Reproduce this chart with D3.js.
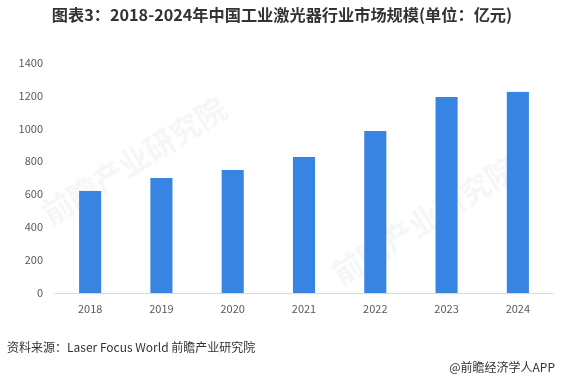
<!DOCTYPE html>
<html><head><meta charset="utf-8">
<script src="https://cdn.jsdelivr.net/npm/d3@7"></script>
<style>body{margin:0;background:#fff}svg{display:block;font-family:"Noto Sans CJK SC","Noto Sans",sans-serif}</style>
</head><body><svg id="c" width="562" height="381"></svg>
<script>
const categories = ["2018","2019","2020","2021","2022","2023","2024"];
const values = [621, 700, 749, 828, 986, 1193, 1224];
const yTicks = [0,200,400,600,800,1000,1200,1400];
const title = "图表3：2018-2024年中国工业激光器行业市场规模(单位：亿元)";
const source = "资料来源：Laser Focus World 前瞻产业研究院";
const brand = "@前瞻经济学人APP";

const svg = d3.select("#c");
const x = d3.scaleBand().domain(categories).range([54.5, 553.5]).paddingInner(0.69).paddingOuter(0.345);
const y = d3.scaleLinear().domain([0,1400]).range([293, 63]);

// watermark
const wm = svg.append("g").attr("fill","#e3e8ee").attr("opacity",0.4).attr("font-weight","bold");
[[140,170],[430,230]].forEach(([cx,cy])=>{
  wm.append("text").attr("transform",`translate(${cx},${cy}) rotate(-32)`).attr("text-anchor","middle")
    .attr("font-size",30).text("前瞻产业研究院");
});

svg.append("text").attr("x",282).attr("y",21).attr("text-anchor","middle")
  .attr("font-size",16.2).attr("font-weight","bold").attr("fill","#333").text(title);

// y axis labels
svg.append("g").selectAll("text").data(yTicks).join("text")
  .attr("x",43).attr("y",d=>y(d)).attr("dy","0.35em").attr("text-anchor","end")
  .attr("font-size",11).attr("fill","#595959").text(d=>d);

// baseline
svg.append("line").attr("x1",54.5).attr("x2",553.5).attr("y1",y(0)+0.5).attr("y2",y(0)+0.5)
  .attr("stroke","#d9d9d9").attr("stroke-width",1);

// bars
svg.append("g").selectAll("rect").data(values).join("rect")
  .attr("x",(d,i)=>x(categories[i])).attr("width",x.bandwidth())
  .attr("y",d=>y(d)).attr("height",d=>y(0)-y(d)).attr("fill","#3784E3");

// x labels
svg.append("g").selectAll("text").data(categories).join("text")
  .attr("x",d=>x(d)+x.bandwidth()/2).attr("y",313).attr("text-anchor","middle")
  .attr("font-size",11).attr("fill","#595959").text(d=>d);

svg.append("text").attr("x",7).attr("y",352).attr("font-size",12).attr("fill","#333").text(source);
svg.append("text").attr("x",555).attr("y",372).attr("text-anchor","end").attr("font-size",12).attr("fill","#333").text(brand);
</script></body></html>
